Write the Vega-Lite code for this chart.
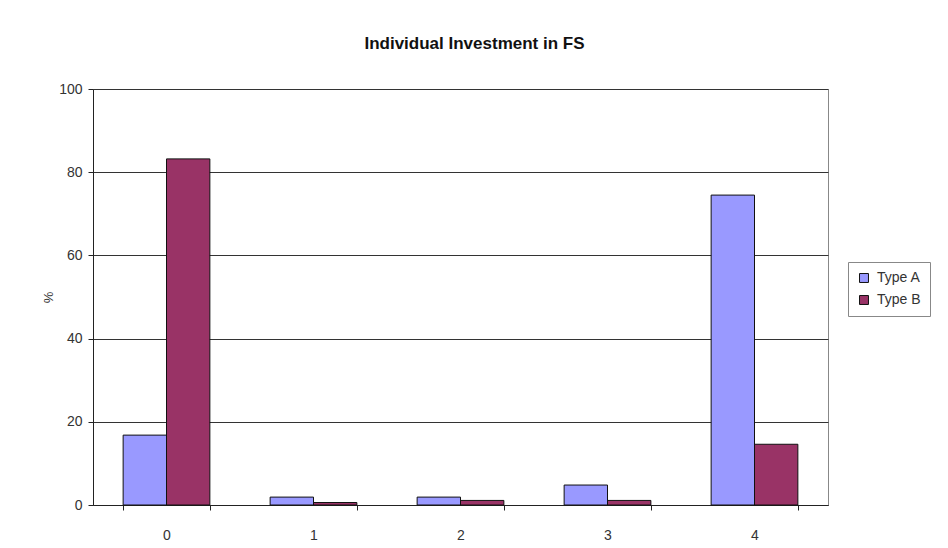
{
  "$schema": "https://vega.github.io/schema/vega-lite/v6.json",
  "autosize": "none",
  "width": 735,
  "height": 416,
  "padding": {"left": 93, "top": 89, "right": 120, "bottom": 43},
  "background": "white",
  "title": {
    "text": "Individual Investment in FS",
    "font": "Liberation Sans",
    "fontSize": 17,
    "fontWeight": "bold",
    "color": "#111",
    "anchor": "middle",
    "dx": 14,
    "offset": 29
  },
  "config": {
    "view": {"stroke": "#888", "strokeWidth": 1},
    "axis": {"labelFont": "Liberation Sans", "titleFont": "Liberation Sans", "labelColor": "#333", "titleColor": "#333"}
  },
  "data": {
    "values": [
      {"cat": "0", "type": "Type A", "value": 16.8},
      {"cat": "0", "type": "Type B", "value": 83.2},
      {"cat": "1", "type": "Type A", "value": 1.9},
      {"cat": "1", "type": "Type B", "value": 0.6},
      {"cat": "2", "type": "Type A", "value": 1.9},
      {"cat": "2", "type": "Type B", "value": 1.1},
      {"cat": "3", "type": "Type A", "value": 4.8},
      {"cat": "3", "type": "Type B", "value": 1.1},
      {"cat": "4", "type": "Type A", "value": 74.5},
      {"cat": "4", "type": "Type B", "value": 14.6}
    ]
  },
  "mark": {"type": "bar", "stroke": "#111", "strokeWidth": 1},
  "encoding": {
    "x": {
      "field": "cat",
      "type": "nominal",
      "scale": {"paddingInner": 0.41, "paddingOuter": 0.205},
      "axis": {
        "title": null,
        "labelAngle": 0,
        "labelFontSize": 14,
        "labelPadding": 18,
        "tickBand": "extent",
        "tickColor": "#222",
        "tickSize": 5,
        "domainColor": "#222",
        "grid": false
      }
    },
    "xOffset": {"field": "type", "type": "nominal"},
    "y": {
      "field": "value",
      "type": "quantitative",
      "scale": {"domain": [0, 100], "nice": false},
      "axis": {
        "title": "%",
        "titleFontSize": 13,
        "titleFontWeight": "normal",
        "titlePadding": 3,
        "values": [0, 20, 40, 60, 80, 100],
        "labelFontSize": 14,
        "labelPadding": 6,
        "tickSize": 5,
        "tickColor": "#222",
        "domainColor": "#222",
        "grid": true,
        "gridColor": "#333",
        "gridWidth": 1.2
      }
    },
    "color": {
      "field": "type",
      "type": "nominal",
      "scale": {"domain": ["Type A", "Type B"], "range": ["#9999FF", "#993366"]},
      "legend": {
        "title": null,
        "orient": "none",
        "legendX": 755,
        "legendY": 173,
        "symbolType": "square",
        "symbolSize": 80,
        "symbolStrokeColor": "#111",
        "symbolStrokeWidth": 1,
        "labelFont": "Liberation Sans",
        "labelFontSize": 14,
        "labelColor": "#333",
        "labelOffset": 6,
        "rowPadding": 8,
        "strokeColor": "#888",
        "padding": 9,
        "fillColor": "white"
      }
    }
  }
}
